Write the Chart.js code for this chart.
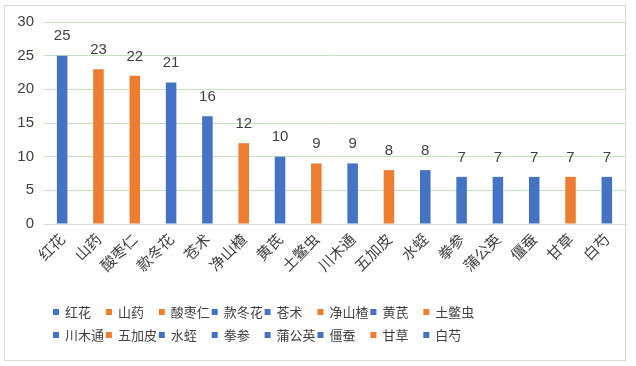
<!DOCTYPE html>
<html><head><meta charset="utf-8">
<script src="https://cdn.jsdelivr.net/npm/chart.js@4"></script>
<style>html,body{margin:0;padding:0;background:#fff;}#wrap{width:636px;height:366px;position:relative;}</style>
</head><body><div id="wrap"><canvas id="c" width="636" height="366"></canvas></div>
<script>
const categories = ['红花','山药','酸枣仁','款冬花','苍术','净山楂','黄芪','土鳖虫','川木通','五加皮','水蛭','拳参','蒲公英','僵蚕','甘草','白芍'];
const values = [25,23,22,21,16,12,10,9,9,8,8,7,7,7,7,7];
const colorGroup = ['b','o','o','b','b','o','b','o','b','o','b','b','b','b','o','b'];
const yTicks = [0,5,10,15,20,25,30];

const palette = {b:'#4472C4', o:'#ED7D31'};
const barColors = colorGroup.map(g => palette[g]);
const CJK = '"Noto Sans CJK SC", "Noto Sans", sans-serif';

const framePlugin = {
  id:'frame',
  beforeDraw(chart){
    const ctx = chart.ctx;
    ctx.save();
    ctx.fillStyle='#fff';
    ctx.fillRect(0,0,chart.width,chart.height);
    ctx.strokeStyle='#d9d9d9';
    ctx.lineWidth=1;
    ctx.strokeRect(4.5,5.5,621,355);
    ctx.restore();
  }
};
const valueLabels = {
  id:'valueLabels',
  afterDatasetsDraw(chart){
    const ctx = chart.ctx;
    const meta = chart.getDatasetMeta(0);
    ctx.save();
    ctx.font = '15px "Liberation Sans", Arial, sans-serif';
    ctx.fillStyle = '#404040';
    ctx.textAlign = 'center';
    ctx.textBaseline = 'bottom';
    meta.data.forEach((bar,i)=>{
      ctx.fillText(String(values[i]), bar.x, bar.y - 12);
    });
    ctx.restore();
  }
};
const gridLegend = {
  id:'gridLegend',
  afterDraw(chart){
    const ctx = chart.ctx;
    ctx.save();
    ctx.font = '13px ' + CJK;
    ctx.textBaseline = 'middle';
    ctx.textAlign = 'left';
    const x0 = 53, step = 52.9, rows = [312, 335], perRow = 8;
    categories.forEach((name,i)=>{
      const r = Math.floor(i/perRow), c = i % perRow;
      const x = x0 + c*step, y = rows[r];
      ctx.fillStyle = barColors[i];
      ctx.fillRect(x, y-3, 6, 6);
      ctx.fillStyle = '#404040';
      ctx.fillText(name, x + 12, y + 0.5);
    });
    ctx.restore();
  }
};

new Chart(document.getElementById('c'), {
  type:'bar',
  data:{
    labels: categories,
    datasets:[{
      label:'数量',
      data: values,
      backgroundColor: barColors,
      borderWidth:0,
      categoryPercentage:1,
      barPercentage:0.29
    }]
  },
  options:{
    responsive:false,
    animation:false,
    devicePixelRatio:1,
    layout:{padding:{left:0,right:11,top:22,bottom:0}},
    plugins:{legend:{display:false},tooltip:{enabled:false}},
    scales:{
      x:{
        afterFit(s){ s.height = 142; },
        grid:{display:false, drawTicks:false},
        border:{display:true, color:'#d9d9d9', width:1},
        ticks:{
          autoSkip:false, minRotation:45, maxRotation:45, padding:6,
          color:'#404040', font:{size:15, family:CJK}
        }
      },
      y:{
        min:0, max:30,
        afterFit(s){ s.width = 44; },
        afterBuildTicks(s){ s.ticks = yTicks.map(v=>({value:v})); },
        grid:{color:'#c6e3bd', drawTicks:false, lineWidth:1},
        border:{display:false},
        ticks:{
          padding:10, color:'#404040',
          font:{size:15, family:'"Liberation Sans", Arial, sans-serif'}
        }
      }
    }
  },
  plugins:[framePlugin, valueLabels, gridLegend]
});
</script></body></html>
